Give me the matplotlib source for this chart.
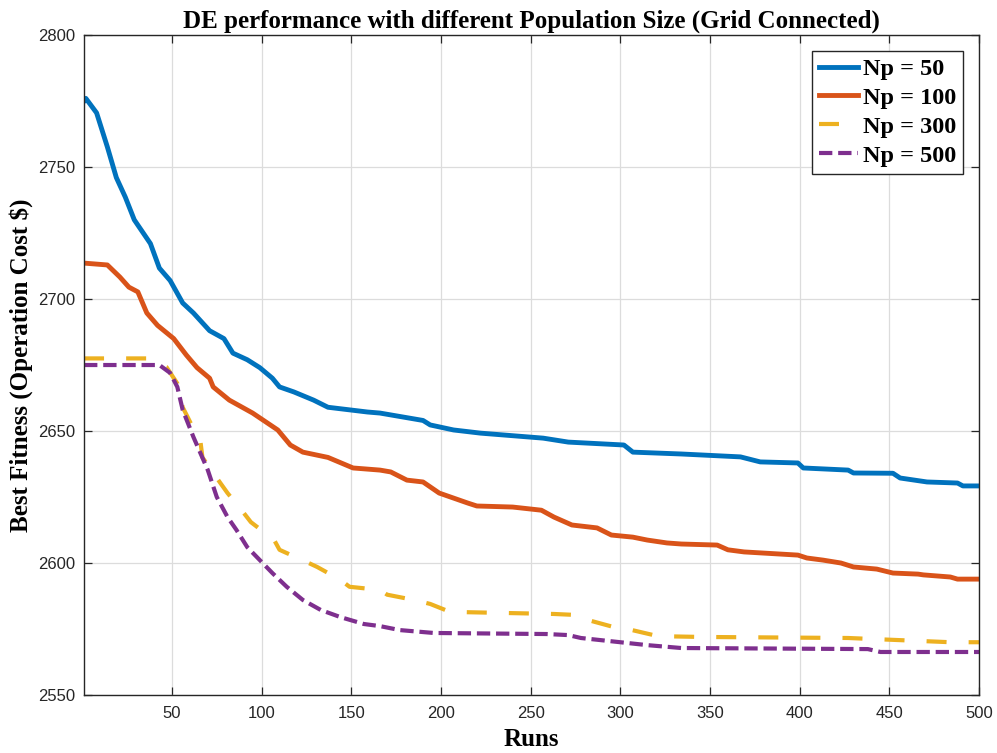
import matplotlib.pyplot as plt

# ---- DATA ----
x_np50 = [1, 2, 8, 14, 19, 24, 29, 38, 43, 49, 56, 62, 71, 79, 84, 92, 99, 106, 110, 118,
          129, 137, 159, 166, 190, 194, 207, 222, 257, 271, 302, 307, 334, 367, 378, 399,
          402, 427, 430, 452, 456, 471, 488, 491, 500]
y_np50 = [2775, 2776, 2770.5, 2757.6, 2746, 2738.6, 2730, 2721, 2711.7, 2707, 2698.5, 2694.7,
          2688, 2685, 2679.5, 2677, 2674, 2670, 2666.7, 2664.8, 2661.7, 2659, 2657.2, 2656.8,
          2654, 2652.3, 2650.4, 2649.2, 2647.3, 2645.8, 2644.7, 2642, 2641.3, 2640.2, 2638.3,
          2637.9, 2636, 2635.2, 2634.1, 2634, 2632.2, 2630.7, 2630.3, 2629.2, 2629.2]

x_np100 = [1, 14, 21, 26, 31, 36, 42, 51, 58, 64, 71, 73, 82, 95, 109, 116, 123, 137, 151,
           166, 172, 181, 190, 199, 215, 220, 240, 256, 263, 273, 287, 295, 307, 315, 326,
           334, 354, 360, 369, 399, 404, 413, 423, 430, 443, 452, 466, 469, 484, 488, 500]
y_np100 = [2713.6, 2712.9, 2708.3, 2704.5, 2702.7, 2694.7, 2690, 2685, 2678.8, 2674, 2670,
           2666.7, 2661.7, 2656.8, 2650.4, 2644.7, 2642, 2640, 2636, 2635.2, 2634.5, 2631.4,
           2630.7, 2626.5, 2622.7, 2621.6, 2621.2, 2620, 2617.4, 2614.4, 2613.3, 2610.6,
           2609.8, 2608.7, 2607.6, 2607.2, 2606.8, 2605, 2604.2, 2603, 2601.9, 2601.1, 2600,
           2598.5, 2597.7, 2596.2, 2595.8, 2595.5, 2594.7, 2593.9, 2593.9]

x_np300 = [1, 36, 47, 53, 56, 66, 67, 77, 81, 90, 94, 107, 110, 125, 131, 144, 149, 166, 170,
           185, 194, 205, 263, 276, 282, 296, 304, 321, 345, 427, 484, 500]
y_np300 = [2677.5, 2677.5, 2674.2, 2668, 2659, 2645.5, 2640, 2630.3, 2626.5, 2619, 2615.5,
           2608.7, 2605, 2600.4, 2598.5, 2593.6, 2591, 2589.8, 2588, 2586, 2584.5, 2581.5,
           2580.7, 2580.3, 2578.4, 2575.8, 2575, 2572.3, 2572, 2571.6, 2570, 2570]

x_np500 = [1, 43, 49, 53, 56, 62, 70, 75, 81, 86, 92, 99, 106, 114, 123, 133, 144, 157, 166,
           177, 196, 259, 271, 278, 315, 334, 438, 445, 500]
y_np500 = [2675, 2675, 2672, 2666.7, 2658, 2647.7, 2635.2, 2625, 2617.4, 2612.5, 2606,
           2601.1, 2596.2, 2591, 2586, 2582.2, 2579.5, 2576.9, 2576.1, 2574.6, 2573.5, 2573.1,
           2572.7, 2571.6, 2568.9, 2567.8, 2567.4, 2566.3, 2566.3]

labels = ["Np = 50", "Np = 100", "Np = 300", "Np = 500"]

# ---- PLOT ----
serif = ["Liberation Serif", "DejaVu Serif"]
plt.rcParams["font.family"] = ["Liberation Sans", "DejaVu Sans"]

fig = plt.figure(figsize=(9.97, 7.53), dpi=100)
ax = fig.add_axes([0.0843, 0.077, 0.8977, 0.8765])

ax.plot(x_np50, y_np50, color="#0072BD", lw=3.5, label=labels[0], solid_joinstyle="round")
ax.plot(x_np100, y_np100, color="#D95319", lw=3.5, label=labels[1], solid_joinstyle="round")
ax.plot(x_np300, y_np300, color="#EDB120", lw=3.0, ls=(0, (4.8, 5.3)), label=labels[2])
ax.plot(x_np500, y_np500, color="#7E2F8E", lw=3.0, ls=(0, (3.2, 1.4)), label=labels[3])

ax.set_xlim(1, 500)
ax.set_ylim(2550, 2800)
ax.set_xticks(range(50, 501, 50))
ax.set_yticks(range(2550, 2801, 50))
ax.tick_params(direction="in", top=True, right=True, length=6, width=0.9,
               labelsize=12, colors="#262626", pad=6)
ax.tick_params(axis="x", pad=8)
ax.grid(True, color="#dcdcdc", lw=0.9)
for s in ax.spines.values():
    s.set_color("#262626")
    s.set_linewidth(1.0)

ax.set_title("DE performance with different Population Size (Grid Connected)",
             family=serif, weight="bold", fontsize=18, pad=5)
ax.set_xlabel("Runs", family=serif, weight="bold", fontsize=18, labelpad=5)
ax.set_ylabel("Best Fitness (Operation Cost $)", family=serif, weight="bold", fontsize=18,
              labelpad=4)

leg = ax.legend(loc="upper right", prop={"family": serif, "weight": "bold", "size": 17.5},
                fancybox=False, edgecolor="#262626", framealpha=1, handlelength=1.6,
                borderaxespad=0.65, labelspacing=0.28, handletextpad=0.2, borderpad=0.3)
leg.get_frame().set_linewidth(1.0)

plt.savefig("out.png", dpi=100)
